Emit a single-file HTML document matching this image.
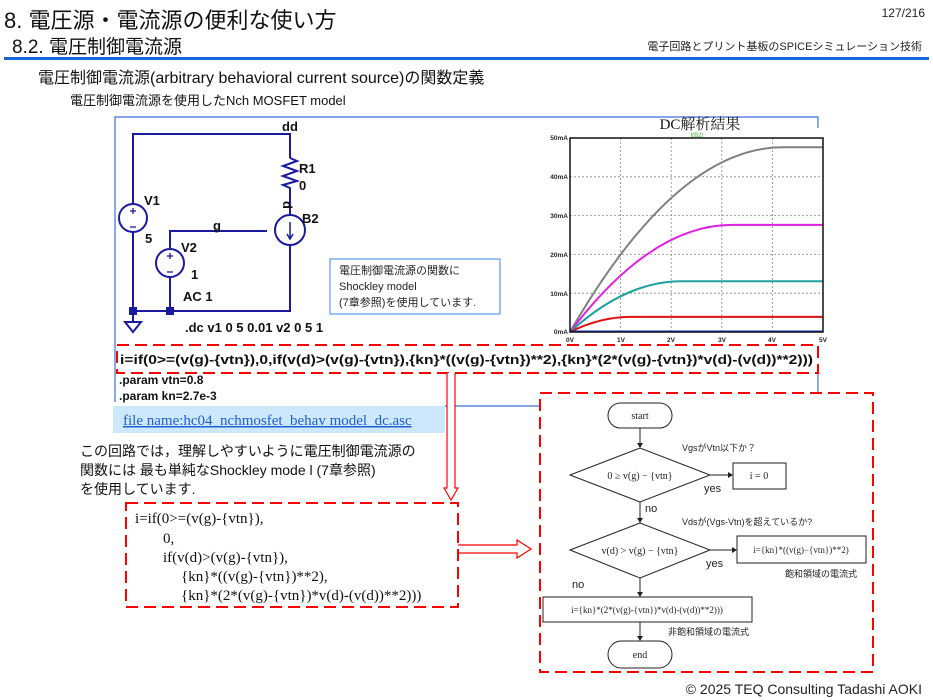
<!DOCTYPE html>
<html><head><meta charset="utf-8"><style>
body{margin:0;width:933px;height:700px;background:#fff;overflow:hidden;position:relative;font-family:"Liberation Sans","Noto Sans CJK JP",sans-serif;}
svg{position:absolute;left:0;top:0}
</style></head><body>
<svg width="933" height="700" viewBox="0 0 933 700" font-family="Liberation Sans, Noto Sans CJK JP, sans-serif">
<!-- header -->
<text x="4" y="28" font-size="22" fill="#111">8. 電圧源・電流源の便利な使い方</text>
<text x="925" y="17" font-size="12" fill="#222" text-anchor="end">127/216</text>
<text x="12" y="53" font-size="19" fill="#111">8.2. 電圧制御電流源</text>
<text x="922" y="50" font-size="11" fill="#222" text-anchor="end">電子回路とプリント基板のSPICEシミュレーション技術</text>
<rect x="4" y="57" width="925" height="3" fill="#1565d8"/>
<text x="38" y="83" font-size="16" fill="#111">電圧制御電流源(arbitrary behavioral current source)の関数定義</text>
<text x="70" y="105" font-size="13" fill="#111">電圧制御電流源を使用したNch MOSFET model</text>

<!-- blue frame -->
<polyline points="115,402 115,117 818,117 818,128" fill="none" stroke="#3c6fe0" stroke-width="1.2"/>
<line x1="818" y1="373" x2="818" y2="393" stroke="#3c6fe0" stroke-width="1.2"/>
<line x1="445" y1="406" x2="540" y2="406" stroke="#3c6fe0" stroke-width="1.2"/>

<!-- circuit -->
<g stroke="#1a1aa0" stroke-width="2" fill="none">
<polyline points="133,204 133,134 290,134 290,158"/>
<polyline points="290,158 297,161 283,166 297,171 283,176 297,181 283,185 290,188 290,215"/>
<polyline points="290,245 290,311 133,311 133,232"/>
<polyline points="170,249 170,231 267,231"/>
<line x1="170" y1="277" x2="170" y2="311"/>
<line x1="133" y1="311" x2="133" y2="322"/>
<polygon points="125,322 141,322 133,332"/>
<circle cx="133" cy="218" r="14"/>
<circle cx="170" cy="263" r="14"/>
<circle cx="290" cy="230" r="15"/>
<line x1="290" y1="222" x2="290" y2="238" stroke-width="1.5"/>
<polyline points="287,234 290,239 293,234" stroke-width="1.5"/>
<line x1="133" y1="208" x2="133" y2="214" stroke-width="1.3"/><line x1="130" y1="211" x2="136" y2="211" stroke-width="1.3"/>
<line x1="130" y1="227" x2="136" y2="227" stroke-width="1.3"/>
<line x1="170" y1="253" x2="170" y2="259" stroke-width="1.3"/><line x1="167" y1="256" x2="173" y2="256" stroke-width="1.3"/>
<line x1="167" y1="272" x2="173" y2="272" stroke-width="1.3"/>
</g>
<rect x="129" y="307" width="8" height="8" fill="#1a1aa0"/>
<rect x="166" y="307" width="8" height="8" fill="#1a1aa0"/>
<g font-size="13" font-weight="bold" fill="#111">
<text x="282" y="131">dd</text>
<text x="299" y="173">R1</text>
<text x="299" y="190">0</text>
<text x="279" y="205" transform="rotate(90 283 205)">d</text>
<text x="302" y="223">B2</text>
<text x="144" y="205">V1</text>
<text x="145" y="243">5</text>
<text x="213" y="230">g</text>
<text x="181" y="252">V2</text>
<text x="191" y="279">1</text>
<text x="183" y="301">AC 1</text>
<text x="185" y="332">.dc v1 0 5 0.01 v2 0 5 1</text>
</g>
<rect x="330" y="259" width="170" height="55" fill="#fff" stroke="#5b9bf0" stroke-width="1.2"/>
<text font-size="11" fill="#222"><tspan x="339" y="274">電圧制御電流源の関数に</tspan><tspan x="339" y="290">Shockley model</tspan><tspan x="339" y="306">(7章参照)を使用しています.</tspan></text>

<!-- graph -->
<text x="700" y="129" font-size="15" fill="#111" text-anchor="middle" font-family="Liberation Serif, Noto Serif CJK SC, serif">DC解析結果</text>
<text x="697" y="137" font-size="6" fill="#3a3" text-anchor="middle">I(B2)</text>
<g stroke="#888" stroke-width="0.8" stroke-dasharray="2,2">
<line x1="620.6" y1="138" x2="620.6" y2="332"/><line x1="671.2" y1="138" x2="671.2" y2="332"/><line x1="721.8" y1="138" x2="721.8" y2="332"/><line x1="772.4" y1="138" x2="772.4" y2="332"/>
<line x1="570" y1="176.8" x2="823" y2="176.8"/><line x1="570" y1="215.6" x2="823" y2="215.6"/><line x1="570" y1="254.4" x2="823" y2="254.4"/><line x1="570" y1="293.2" x2="823" y2="293.2"/>
</g>
<g font-size="6.5" fill="#222" text-anchor="end" font-weight="bold">
<text x="568" y="140">50mA</text><text x="568" y="179">40mA</text><text x="568" y="218">30mA</text><text x="568" y="257">20mA</text><text x="568" y="296">10mA</text><text x="568" y="334">0mA</text>
</g>
<g font-size="6.5" fill="#222" text-anchor="middle" font-weight="bold">
<text x="570" y="342">0V</text><text x="621" y="342">1V</text><text x="671" y="342">2V</text><text x="722" y="342">3V</text><text x="772" y="342">4V</text><text x="823" y="342">5V</text>
</g>
<g fill="none" stroke-width="2">
<path d="M570,332 Q676.3,147.3 782.5,147.3 L823,147.3" stroke="#808080"/>
<path d="M570,332 Q651,224.9 731.9,224.9 L823,224.9" stroke="#e020e0"/>
<path d="M570,332 Q625.7,281.2 681.3,281.2 L823,281.2" stroke="#20a0a0"/>
<path d="M570,332 Q600.4,316.9 630.7,316.9 L823,316.9" stroke="#e01010"/>
<line x1="570" y1="331.5" x2="823" y2="331.5" stroke="#1030e0"/>
</g>
<rect x="570" y="138" width="253" height="194" fill="none" stroke="#111" stroke-width="1.5"/>

<!-- formula line -->
<rect x="117" y="345" width="701" height="28" fill="none" stroke="#f00" stroke-width="2" stroke-dasharray="12,6"/>
<text x="120" y="364" font-size="13.3" font-weight="bold" fill="#111" textLength="693" lengthAdjust="spacingAndGlyphs">i=if(0&gt;=(v(g)-{vtn}),0,if(v(d)&gt;(v(g)-{vtn}),{kn}*((v(g)-{vtn})**2),{kn}*(2*(v(g)-{vtn})*v(d)-(v(d))**2)))</text>
<text x="119" y="384" font-size="12" font-weight="bold" fill="#111">.param vtn=0.8</text>
<text x="119" y="400" font-size="12" font-weight="bold" fill="#111">.param kn=2.7e-3</text>
<rect x="113" y="406" width="332" height="27" fill="#cde8fb"/>
<text x="123" y="425" font-size="15" fill="#2060d0" text-decoration="underline" font-family="Liberation Serif, serif">file name:hc04_nchmosfet_behav model_dc.asc</text>

<text font-size="14" fill="#111"><tspan x="80" y="456">この回路では，理解しやすいように電圧制御電流源の</tspan><tspan x="80" y="475">関数には 最も単純なShockley mode l (7章参照)</tspan><tspan x="80" y="494">を使用しています.</tspan></text>

<!-- hollow arrows -->
<path d="M447,373 L447,488 L444,488 L451,500 L458,488 L455,488 L455,373" fill="#fff" stroke="#f00" stroke-width="1.2"/>
<path d="M458,545 L517,545 L517,540 L531,549 L517,558 L517,553 L458,553" fill="#fff" stroke="#f00" stroke-width="1.2"/>

<rect x="126" y="503" width="332" height="104" fill="none" stroke="#f00" stroke-width="2" stroke-dasharray="12,6"/>
<text font-size="15" fill="#111" font-family="Liberation Serif, serif"><tspan x="135" y="523">i=if(0&gt;=(v(g)-{vtn}),</tspan><tspan x="163" y="543">0,</tspan><tspan x="163" y="562">if(v(d)&gt;(v(g)-{vtn}),</tspan><tspan x="181" y="581">{kn}*((v(g)-{vtn})**2),</tspan><tspan x="181" y="600">{kn}*(2*(v(g)-{vtn})*v(d)-(v(d))**2)))</tspan></text>

<!-- flowchart -->
<rect x="540" y="393" width="333" height="279" fill="none" stroke="#f00" stroke-width="2" stroke-dasharray="12,6"/>
<g fill="none" stroke="#222" stroke-width="1">
<rect x="608" y="403" width="64" height="25" rx="12.5"/>
<rect x="608" y="641" width="64" height="27" rx="13.5"/>
<polygon points="570,475 640,448 710,475 640,502"/>
<polygon points="570,550 640,523 710,550 640,578"/>
<rect x="733" y="463" width="53" height="26"/>
<rect x="737" y="536" width="129" height="27"/>
<rect x="543" y="597" width="209" height="25"/>
<line x1="640" y1="428" x2="640" y2="446"/><line x1="640" y1="502" x2="640" y2="521"/><line x1="640" y1="578" x2="640" y2="595"/><line x1="640" y1="622" x2="640" y2="639"/>
<line x1="710" y1="475" x2="731" y2="475"/><line x1="710" y1="550" x2="735" y2="550"/>
</g>
<g fill="#222">
<polygon points="637,443 643,443 640,448"/><polygon points="637,518 643,518 640,523"/><polygon points="637,592 643,592 640,597"/><polygon points="637,636 643,636 640,641"/>
<polygon points="728,472 728,478 733,475"/><polygon points="732,547 732,553 737,550"/>
</g>
<g font-family="Liberation Serif, serif" font-size="10" fill="#222" text-anchor="middle">
<text x="640" y="419">start</text>
<text x="640" y="658">end</text>
<text x="640" y="479">0 ≥ v(g) − {vtn}</text>
<text x="640" y="554">v(d) &gt; v(g) − {vtn}</text>
<text x="759" y="479">i = 0</text>
<text x="801" y="553" font-size="9">i={kn}*((v(g)−{vtn})**2)</text>
<text x="647" y="613" font-size="9">i={kn}*(2*(v(g)-{vtn})*v(d)-(v(d))**2)))</text>
</g>
<g font-size="9" fill="#222">
<text x="682" y="451">VgsがVtn以下か？</text>
<text x="682" y="525">Vdsが(Vgs-Vtn)を超えているか?</text>
<text x="785" y="577">飽和領域の電流式</text>
<text x="668" y="635">非飽和領域の電流式</text>
</g>
<g font-size="11" fill="#222">
<text x="704" y="492">yes</text><text x="706" y="567">yes</text><text x="645" y="512">no</text><text x="572" y="588">no</text>
</g>

<text x="922" y="694" font-size="14" fill="#222" text-anchor="end">© 2025 TEQ Consulting Tadashi AOKI</text>
</svg>
</body></html>
